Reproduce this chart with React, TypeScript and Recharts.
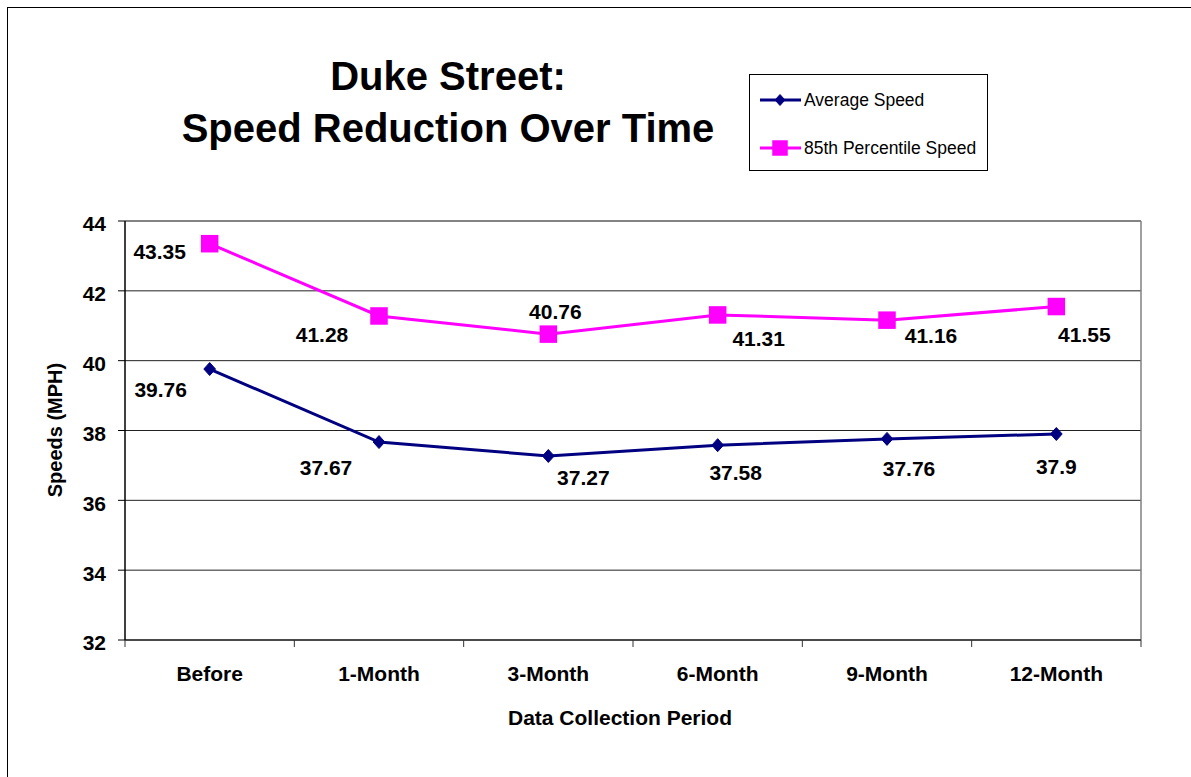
import React from 'react';
import { CartesianGrid, LabelList, Legend, Line, LineChart, ReferenceLine, XAxis, YAxis } from 'recharts';

const periods = ['Before', '1-Month', '3-Month', '6-Month', '9-Month', '12-Month'];
const averageSpeed = [39.76, 37.67, 37.27, 37.58, 37.76, 37.9];
const percentile85Speed = [43.35, 41.28, 40.76, 41.31, 41.16, 41.55];
const speedTicks = [32, 34, 36, 38, 40, 42, 44];
const legendOrder = ['avg', 'p85'];

// label nudges (px) relative to each point
const avgLabelOffsets = [[-49, 20], [-53, 25], [35, 22], [18, 27], [22, 30], [0, 33]];
const p85LabelOffsets = [[-50, 8], [-57, 19], [7, -23], [41, 24], [44, 15], [28, 28]];

const FONT = "Arial, 'Liberation Sans', sans-serif";
const NAVY = '#000080';
const MAGENTA = '#FF00FF';

const W = 1191;
const H = 777;
const PLOT_LEFT = 125;
const PLOT_RIGHT = 1141;
const BAND = (PLOT_RIGHT - PLOT_LEFT) / periods.length;

const data = periods.map((period, i) => ({
  period,
  pos: i + 0.5,
  avg: averageSpeed[i],
  p85: percentile85Speed[i],
}));

const Diamond = ({ cx, cy, r = 6 }: { cx?: number; cy?: number; r?: number }) => {
  if (cx == null || cy == null) return null;
  const w = r * 0.9;
  return (
    <polygon
      points={`${cx},${cy - r} ${cx + w},${cy} ${cx},${cy + r} ${cx - w},${cy}`}
      fill={NAVY}
      stroke={NAVY}
      strokeWidth={1}
    />
  );
};

const Square = ({ cx, cy, s = 17.5 }: { cx?: number; cy?: number; s?: number }) => {
  if (cx == null || cy == null) return null;
  return <rect x={cx - s / 2} y={cy - s / 2} width={s} height={s} fill={MAGENTA} />;
};

const makeLabel = (offsets: number[][]) => (props: any) => {
  const { x, y, value, index } = props;
  const [dx, dy] = offsets[index] || [0, 0];
  return (
    <text
      x={Number(x) + dx}
      y={Number(y) + dy + 7.5}
      textAnchor="middle"
      fontFamily={FONT}
      fontWeight="bold"
      fontSize={21}
      fill="#000"
    >
      {value}
    </text>
  );
};

const PeriodTick = (props: any) => {
  const { x, y, index } = props;
  if (index >= periods.length) return null;
  return (
    <text
      x={x + BAND / 2}
      y={y + 32}
      textAnchor="middle"
      fontFamily={FONT}
      fontWeight="bold"
      fontSize={21}
      fill="#000"
    >
      {periods[index]}
    </text>
  );
};

const SpeedLegend = (props: any) => {
  const items = [...(props.payload || [])].sort(
    (a: any, b: any) => legendOrder.indexOf(a.dataKey) - legendOrder.indexOf(b.dataKey)
  );
  return (
    <div
      style={{
        position: 'relative',
        width: 239,
        height: 97,
        boxSizing: 'border-box',
        border: '1px solid #000',
        background: '#fff',
        fontFamily: FONT,
        fontSize: 17.5,
        color: '#000',
      }}
    >
      {items.map((item: any, i: number) => (
        <div
          key={item.value}
          style={{ position: 'absolute', left: 10, top: 12 + i * 48, height: 26, display: 'flex', alignItems: 'center' }}
        >
          <svg width={41} height={26}>
            <line x1={0} y1={13} x2={41} y2={13} stroke={item.color} strokeWidth={3} />
            {item.dataKey === 'avg' ? <Diamond cx={20} cy={13} r={5.5} /> : <Square cx={20} cy={13} s={15.5} />}
          </svg>
          <span style={{ marginLeft: 3, whiteSpace: 'nowrap' }}>{item.value}</span>
        </div>
      ))}
    </div>
  );
};

const App: React.FC = () => {
  return (
    <div style={{ position: 'absolute', left: 0, top: 0, width: W, height: H, overflow: 'hidden', background: '#fff' }}>
      <div
        style={{
          position: 'absolute',
          left: 7,
          top: 7,
          width: W + 40,
          height: H + 40,
          border: '1px solid #000',
        }}
      />
      <div style={{ position: 'absolute', left: 0, top: 0 }}>
        <LineChart width={W} height={H} data={data} margin={{ top: 221, right: W - PLOT_RIGHT, bottom: 77, left: 45 }}>
          <CartesianGrid vertical={false} stroke="#222" strokeWidth={1} />
          <XAxis
            type="number"
            dataKey="pos"
            domain={[0, periods.length]}
            ticks={[0, 1, 2, 3, 4, 5, 6]}
            interval={0}
            height={60}
            tickSize={7}
            tick={<PeriodTick />}
            axisLine={{ stroke: '#333', strokeWidth: 1.5 }}
            tickLine={{ stroke: '#333' }}
          />
          <YAxis
            type="number"
            domain={[32, 44]}
            ticks={speedTicks}
            interval={0}
            width={80}
            tickSize={7}
            tickMargin={12}
            axisLine={{ stroke: '#000', strokeWidth: 1.5 }}
            tickLine={{ stroke: '#000' }}
            tick={{ fontFamily: FONT, fontWeight: 'bold', fontSize: 21, fill: '#000', dy: 3 }}
          />
          <ReferenceLine y={44} stroke="#808080" strokeWidth={1.5} />
          <ReferenceLine x={periods.length} stroke="#808080" strokeWidth={1.5} />
          <Legend
            layout="vertical"
            align="center"
            verticalAlign="middle"
            content={<SpeedLegend />}
            wrapperStyle={{ left: 749, top: 74, width: 239, height: 97 }}
          />
          <Line
            dataKey="avg"
            name="Average Speed"
            stroke={NAVY}
            strokeWidth={3}
            dot={<Diamond r={6.5} />}
            activeDot={false}
            isAnimationActive={false}
          >
            <LabelList dataKey="avg" content={makeLabel(avgLabelOffsets)} />
          </Line>
          <Line
            dataKey="p85"
            name="85th Percentile Speed"
            stroke={MAGENTA}
            strokeWidth={3}
            dot={<Square />}
            activeDot={false}
            isAnimationActive={false}
          >
            <LabelList dataKey="p85" content={makeLabel(p85LabelOffsets)} />
          </Line>
        </LineChart>
      </div>
      <div
        style={{
          position: 'absolute',
          left: 148,
          top: 56,
          width: 600,
          textAlign: 'center',
          fontFamily: FONT,
          fontWeight: 'bold',
          fontSize: 40,
          color: '#000',
        }}
      >
        <div style={{ height: 52, lineHeight: '40px' }}>Duke Street:</div>
        <div style={{ lineHeight: '40px' }}>Speed Reduction Over Time</div>
      </div>
      <div
        style={{
          position: 'absolute',
          left: 55,
          top: 430,
          transform: 'translate(-50%, -50%) rotate(-90deg)',
          whiteSpace: 'nowrap',
          fontFamily: FONT,
          fontWeight: 'bold',
          fontSize: 20,
          color: '#000',
        }}
      >
        Speeds (MPH)
      </div>
      <div
        style={{
          position: 'absolute',
          left: 620,
          top: 718,
          transform: 'translate(-50%, -50%)',
          whiteSpace: 'nowrap',
          fontFamily: FONT,
          fontWeight: 'bold',
          fontSize: 21,
          color: '#000',
        }}
      >
        Data Collection Period
      </div>
    </div>
  );
};

export default App;
